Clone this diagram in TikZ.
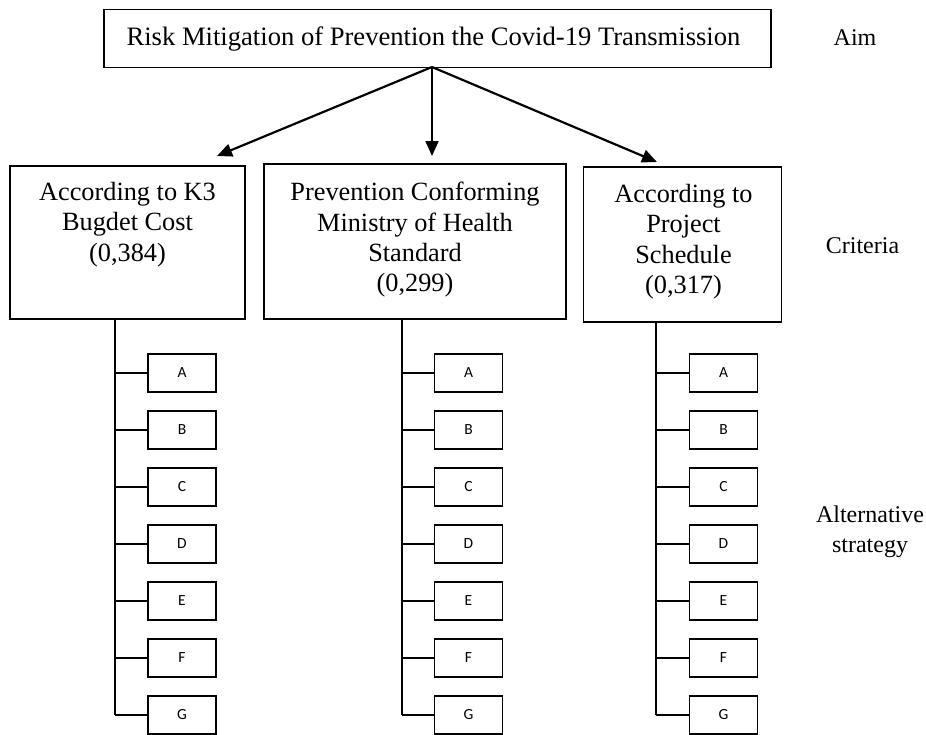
\documentclass[tikz,border=0pt]{standalone}
\usepackage{fontspec}
\setmainfont{Liberation Serif}
\newfontfamily\carl{Carlito}
\usetikzlibrary{arrows.meta}
\begin{document}
\begin{tikzpicture}[x=1pt,y=-1pt,
  topbox/.style={draw,line width=1.8pt,inner sep=0pt},
  toptext/.style={inner sep=0pt,font=\fontsize{26.6}{30}\selectfont},
  cbox/.style={draw,line width=1.8pt,inner sep=0pt},
  ctext/.style={align=center,inner sep=0pt,font=\fontsize{26.3}{30.3}\selectfont},
  altbox/.style={draw,line width=1.3pt,minimum width=68pt,minimum height=38pt,inner sep=0pt,font=\carl\fontsize{15.5}{17}\selectfont},
  conn/.style={line width=1.3pt},
  arr/.style={line width=2.2pt,-{Triangle[length=15pt,width=13pt]}},
  side/.style={inner sep=0pt,font=\fontsize{24}{30}\selectfont,align=center}]
\useasboundingbox (0,0) rectangle (926,734);
\fill[white] (0,0) rectangle (926,734);
\node[topbox,minimum width=667pt,minimum height=58pt] (top) at (437.5,38.5) {};
\node[toptext] (topt) at (433.5,39) {Risk Mitigation of Prevention the Covid-19 Transmission};
\node[cbox,minimum width=235pt,minimum height=153pt] (c1) at (127.5,242.5) {};
\node[cbox,minimum width=302pt,minimum height=155pt] (c2) at (415,241.5) {};
\node[cbox,minimum width=198pt,minimum height=155pt] (c3) at (682.5,244.5) {};
\node[ctext,anchor=north] (c1t) at (127.5,182) {According to K3\\Bugdet Cost\\(0,384)};
\node[ctext,anchor=north] (c2t) at (415,182) {Prevention Conforming\\Ministry of Health\\Standard\\(0,299)};
\node[ctext,anchor=north] (c3t) at (683.5,184) {According to\\Project\\Schedule\\(0,317)};
\coordinate (o) at (432,67);
\coordinate (t1) at (217,156);
\coordinate (t2) at (432,156);
\coordinate (t3) at (657,162);
\draw[arr] (o) -- (t1);
\draw[arr] (o) -- (t2);
\draw[arr] (o) -- (t3);
\node[side] (aim) at (855,38) {Aim};
\node[side] (crit) at (862.5,245.5) {Criteria};
\node[side,anchor=north] (alt) at (870,505.5) {Alternative\\strategy};
\coordinate (v1) at (115,319);
\coordinate (v2) at (402,319);
\coordinate (v3) at (656,322);
\foreach \col/\cx/\v in {1/182/v1,2/468.5/v2,3/723.5/v3}{
  \foreach \lab [count=\i from 0] in {A,B,C,D,E,F,G}{
    \node[altbox] (\lab\col) at (\cx,373+57*\i) {\lab};
    \draw[conn] (\v |- \lab\col.west) -- (\lab\col.west);
  }
  \draw[conn] (\v) -- (\v |- G\col.west);
}
\end{tikzpicture}
\end{document}
